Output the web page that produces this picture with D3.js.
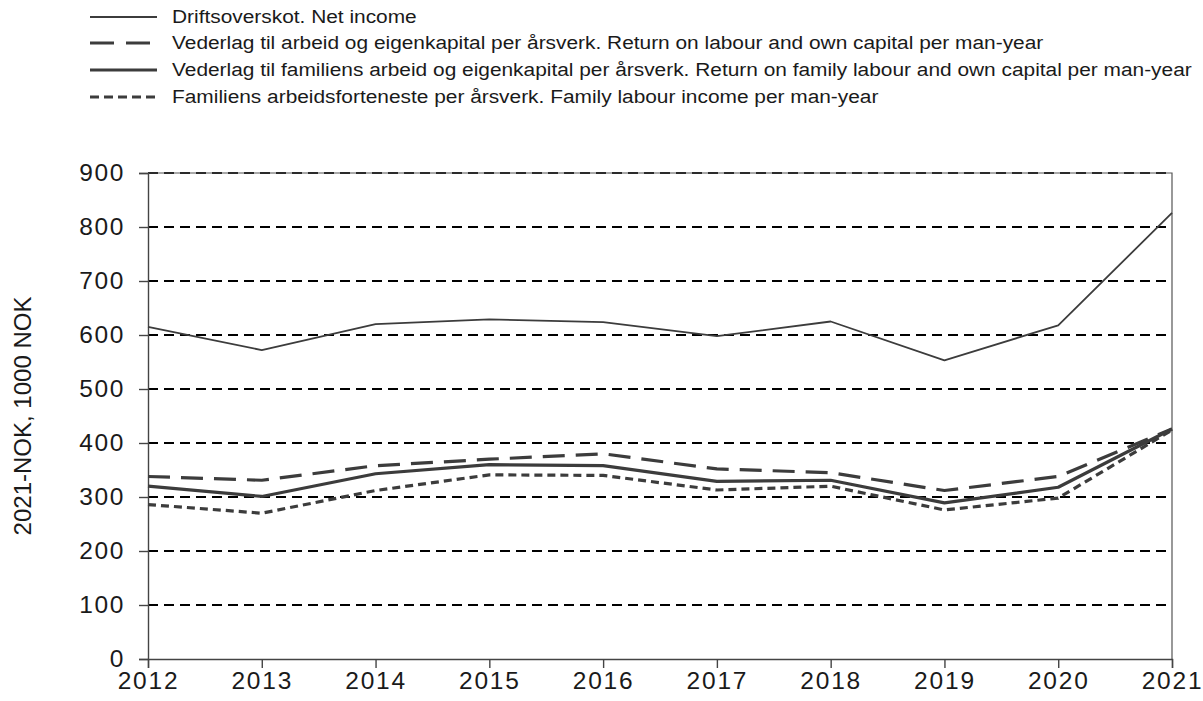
<!DOCTYPE html>
<html>
<head>
<meta charset="utf-8">
<script src="https://cdn.jsdelivr.net/npm/d3@7"></script>
<style>
  html, body { margin: 0; padding: 0; background: #fff; }
  svg { display: block; font-family: "Liberation Sans", Arial, sans-serif; }
</style>
</head>
<body>
<svg id="chart" width="1203" height="701"></svg>
<script>
// ---- Data ----
const years = [2012, 2013, 2014, 2015, 2016, 2017, 2018, 2019, 2020, 2021];
const netIncome      = [615, 572, 620, 629, 624, 598, 625, 553, 618, 826];
const returnLabour   = [338, 331, 358, 370, 380, 352, 345, 312, 338, 426];
const returnFamily   = [320, 301, 343, 360, 358, 329, 331, 289, 318, 426];
const familyIncome   = [286, 270, 312, 341, 340, 313, 320, 276, 298, 424];
const yTicks = [0, 100, 200, 300, 400, 500, 600, 700, 800, 900];
const yTitle = "2021-NOK, 1000 NOK";
const seriesNames = [
  "Driftsoverskot. Net income",
  "Vederlag til arbeid og eigenkapital per årsverk. Return on labour and own capital per man-year",
  "Vederlag til familiens arbeid og eigenkapital per årsverk. Return on family labour and own capital per man-year",
  "Familiens arbeidsforteneste per årsverk. Family labour income per man-year"
];

const series = [
  { name: seriesNames[0], values: netIncome,    width: 1.8, dash: null,   legendDash: null },
  { name: seriesNames[1], values: returnLabour, width: 3.2, dash: "22,11", legendDash: "24,12" },
  { name: seriesNames[2], values: returnFamily, width: 3.2, dash: null,   legendDash: null },
  { name: seriesNames[3], values: familyIncome, width: 3.2, dash: "8,5",  legendDash: "9,5" }
];
const lineColor = "#3c3c3c";

// ---- Layout ----
const svg = d3.select("#chart");
const mLeft = 148, mRight = 1172, mTop = 173, mBottom = 659;

const x = d3.scaleLinear().domain([2012, 2021]).range([mLeft, mRight]);
const y = d3.scaleLinear().domain([0, 900]).range([mBottom, mTop]);

// Grid lines
svg.append("g")
  .selectAll("line")
  .data(yTicks.filter(d => d > 0))
  .join("line")
  .attr("x1", mLeft).attr("x2", mRight)
  .attr("y1", d => y(d)).attr("y2", d => y(d))
  .attr("stroke", "#000")
  .attr("stroke-width", 2.2)
  .attr("stroke-dasharray", "10,6");

// Frame (top + right)
svg.append("path")
  .attr("d", `M${mLeft},${mTop}H${mRight}V${mBottom}`)
  .attr("fill", "none")
  .attr("stroke", "#555")
  .attr("stroke-width", 1.2);

// Y axis
const yAxis = svg.append("g")
  .attr("transform", `translate(${mLeft},0)`)
  .call(d3.axisLeft(y).tickValues(yTicks).tickSize(9).tickPadding(14).tickFormat(d3.format("d")));
yAxis.select(".domain").attr("stroke", "#444").attr("stroke-width", 1.4);
yAxis.selectAll(".tick line").attr("stroke", "#444").attr("stroke-width", 1.4);
yAxis.selectAll(".tick text")
  .attr("font-size", 24.5)
  .attr("fill", "#1a1a1a")
  .attr("font-family", "Liberation Sans, Arial, sans-serif")
  .style("letter-spacing", "1.6px");

// X axis
const xAxis = svg.append("g")
  .attr("transform", `translate(0,${mBottom})`)
  .call(d3.axisBottom(x).tickValues(years).tickSize(9).tickPadding(4).tickFormat(d3.format("d")));
xAxis.select(".domain").attr("stroke", "#444").attr("stroke-width", 1.4);
xAxis.selectAll(".tick line").attr("stroke", "#444").attr("stroke-width", 1.4);
xAxis.selectAll(".tick text")
  .attr("font-size", 24.5)
  .attr("fill", "#1a1a1a")
  .attr("font-family", "Liberation Sans, Arial, sans-serif")
  .style("letter-spacing", "1.8px");

// Y title
svg.append("text")
  .attr("transform", `translate(31,${(mTop + mBottom) / 2}) rotate(-90)`)
  .attr("text-anchor", "middle")
  .attr("font-size", 24)
  .attr("fill", "#1a1a1a")
  .text(yTitle);

// Lines
const line = d3.line().x((d, i) => x(years[i])).y(d => y(d));
svg.append("g")
  .selectAll("path")
  .data(series)
  .join("path")
  .attr("d", d => line(d.values))
  .attr("fill", "none")
  .attr("stroke", lineColor)
  .attr("stroke-width", d => d.width)
  .attr("stroke-dasharray", d => d.dash)
  .attr("stroke-linejoin", "round");

// Legend
const legendY = [17, 43, 70, 97];
const lg = svg.append("g")
  .selectAll("g")
  .data(series)
  .join("g")
  .attr("transform", (d, i) => `translate(0,${legendY[i]})`);
lg.append("line")
  .attr("x1", 90).attr("x2", 157)
  .attr("stroke", lineColor)
  .attr("stroke-width", d => d.width)
  .attr("stroke-dasharray", d => d.legendDash);
lg.append("text")
  .attr("transform", "translate(172,0) scale(1.16,1)")
  .attr("dy", "0.35em")
  .attr("font-size", 18)
  .attr("fill", "#1a1a1a")
  .text(d => d.name);
</script>
</body>
</html>
